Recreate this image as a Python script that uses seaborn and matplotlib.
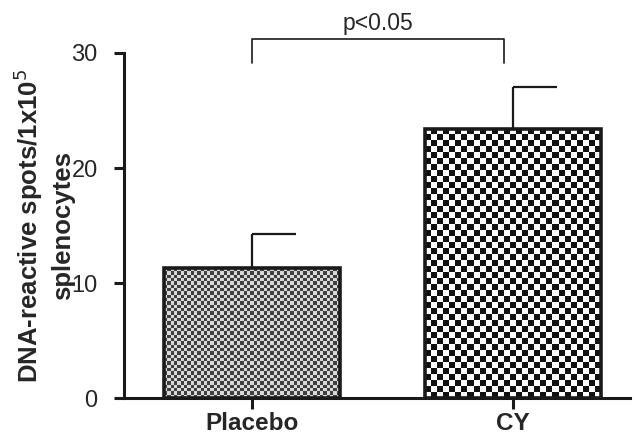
import numpy as np
import pandas as pd
import matplotlib
matplotlib.use("Agg")
import matplotlib.pyplot as plt
import seaborn as sns

# datos
grupos = ["Placebo", "CY"]
medias = [11.3, 23.4]
sem = [3.0, 3.6]
y_ticks = [0, 10, 20, 30]
p_texto = "p<0.05"

df = pd.DataFrame({"grupo": grupos, "spots": medias})

sns.set_style("ticks")
plt.rcParams["font.family"] = ["Liberation Sans", "DejaVu Sans"]

fig = plt.figure(figsize=(6.38, 4.38), dpi=100)
ax = fig.add_axes([0.1944, 0.0913, 0.7931, 0.7877])

sns.barplot(data=df, x="grupo", y="spots", errorbar=None, width=0.674,
            color="white", edgecolor="#1a1a1a", linewidth=2.6, ax=ax, zorder=3)

ax.set_xlim(-0.49, 1.45)
ax.set_ylim(0, 30)
ax.set_yticks(y_ticks)

# texturas tipo tablero de ajedrez, recortadas a cada barra
texturas = [(3.3, "#404040", "#d8d8d8"), (6.0, "#111111", "#ffffff")]
for bar, (celda, c1, c2) in zip(ax.patches, texturas):
    x0, y0 = bar.get_x(), bar.get_y()
    x1, y1 = x0 + bar.get_width(), y0 + bar.get_height()
    (px0, py0), (px1, py1) = ax.transData.transform([(x0, y0), (x1, y1)])
    ncol = max(1, int(round((px1 - px0) / celda)))
    nrow = max(1, int(round((py1 - py0) / celda)))
    tablero = (np.add.outer(np.arange(nrow), np.arange(ncol)) % 2)
    cmap = matplotlib.colors.ListedColormap([c2, c1])
    im = ax.imshow(tablero, cmap=cmap, extent=(x0, x1, y0, y1), origin="lower",
                   interpolation="nearest", aspect="auto", zorder=2)
    im.set_clip_path(bar)
    bar.set_facecolor("none")

ax.set_xlim(-0.49, 1.45)
ax.set_ylim(0, 30)

# barras de error (solo hacia arriba, tapa a la derecha como en GraphPad)
for bar, m, e in zip(ax.patches, medias, sem):
    xc = bar.get_x() + bar.get_width() / 2
    ax.vlines(xc, m, m + e, color="#1a1a1a", lw=1.6, zorder=1)
    ax.hlines(m + e, xc, xc + bar.get_width() / 4, color="#1a1a1a", lw=1.6, zorder=1)

# corchete de significancia
ax.plot([0, 0, 0.965, 0.965], [29.1, 31.2, 31.2, 29.1], color="#1a1a1a",
        lw=1.2, clip_on=False)
ax.text(0.4825, 31.6, p_texto, ha="center", va="bottom", fontsize=16.5)

sns.despine(ax=ax)
for s in ["left", "bottom"]:
    ax.spines[s].set_linewidth(2.2)
    ax.spines[s].set_color("#1a1a1a")

ax.tick_params(axis="y", length=7, width=2.2, pad=12, labelsize=17, color="#1a1a1a")
ax.tick_params(axis="x", length=8, width=2.2, pad=2, labelsize=17.5, color="#1a1a1a")
for lab in ax.get_xticklabels():
    lab.set_fontweight("bold")

ax.set_xlabel("")
ax.set_ylabel("DNA-reactive spots/1x10$^{5}$\nsplenocytes", fontsize=18.5,
              fontweight="bold", linespacing=1.3)
ax.yaxis.set_label_coords(-0.097, 0.50)

fig.savefig("out.png", dpi=100)
